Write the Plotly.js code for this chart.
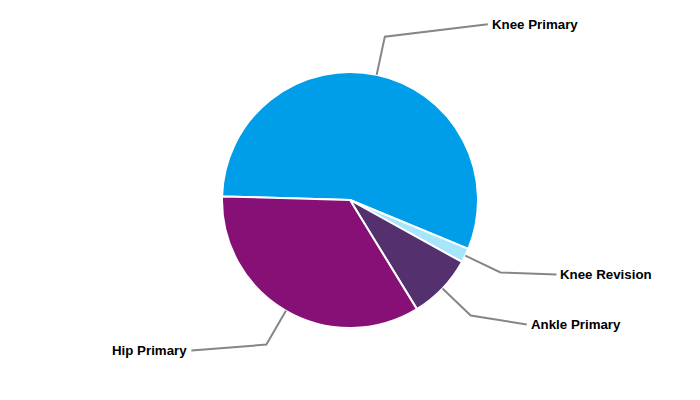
<!DOCTYPE html>
<html>
<head>
<meta charset="utf-8">
<script src="https://cdn.plot.ly/plotly-3.0.1.min.js"></script>
<style>html,body{margin:0;padding:0;background:#fff}#chart{width:700px;height:400px}</style>
</head>
<body>
<div id="chart"></div>
<script>
// Data
var labels = ["Knee Primary", "Knee Revision", "Ankle Primary", "Hip Primary"];
var values = [55.8, 1.8, 8.2, 34.2];
var colors = ["#009ee8", "#a6e5fb", "#55306f", "#861076"];

// Style / layout constants
var W = 700, H = 400;
var CX = 350, CY = 200, R = 128;
var ROT = -88.4;            // start angle of first slice (deg clockwise from 12 o'clock)
var ELBOW = 1.305;          // elbow radius factor
var labelOffsets = [[103, -12.5], [56, 2], [56, 9], [-75, 6]];

var total = values.reduce(function(a,b){return a+b;}, 0);
var shapes = [], annotations = [];
function px(x){return x / W;}
function py(y){return 1 - y / H;}
var cum = ROT;
values.forEach(function(v, i){
  var span = v / total * 360;
  var mid = (cum + span / 2) * Math.PI / 180;
  cum += span;
  var s = Math.sin(mid), c = Math.cos(mid);
  var x0 = CX + R * s, y0 = CY - R * c;
  var x1 = CX + R * ELBOW * s, y1 = CY - R * ELBOW * c;
  var x2 = x1 + labelOffsets[i][0], y2 = y1 + labelOffsets[i][1];
  shapes.push({type: 'path', xref: 'paper', yref: 'paper', layer: 'above',
    path: 'M ' + px(x0) + ' ' + py(y0) + ' L ' + px(x1) + ' ' + py(y1) + ' L ' + px(x2) + ' ' + py(y2),
    line: {color: '#868686', width: 2}});
  var right = labelOffsets[i][0] > 0;
  annotations.push({xref: 'paper', yref: 'paper', showarrow: false,
    x: px(x2 + (right ? 2 : -2)), y: py(y2),
    xanchor: right ? 'left' : 'right', yanchor: 'middle',
    text: labels[i],
    font: {family: 'Arial, "Liberation Sans", sans-serif', size: 13.3, color: '#000', weight: 700}});
});

var data = [{
  type: 'pie',
  labels: labels,
  values: values,
  sort: false,
  direction: 'clockwise',
  rotation: ROT,
  textinfo: 'none',
  hoverinfo: 'label+percent',
  marker: {colors: colors, line: {color: '#ffffff', width: 2}},
  domain: {x: [0, 1], y: [(H - CY - R) / H, (H - CY + R) / H]}
}];

var layout = {
  width: W, height: H,
  margin: {l: 0, r: 0, t: 0, b: 0},
  showlegend: false,
  paper_bgcolor: '#ffffff',
  shapes: shapes,
  annotations: annotations
};

Plotly.newPlot('chart', data, layout, {displayModeBar: false, staticPlot: true});
</script>
</body>
</html>
